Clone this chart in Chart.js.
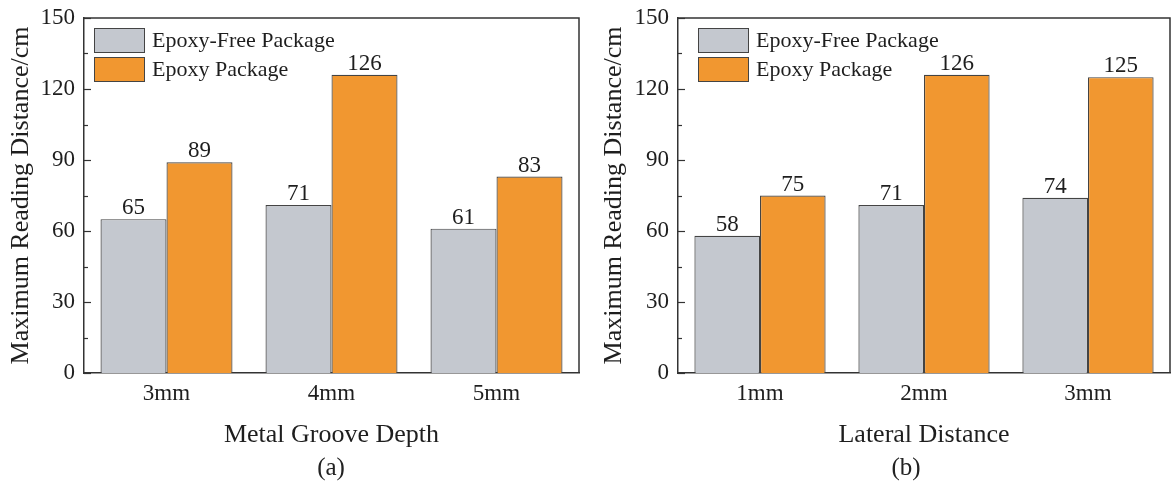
<!DOCTYPE html>
<html>
<head>
<meta charset="utf-8">
<script src="https://cdn.jsdelivr.net/npm/chart.js@4.4.1/dist/chart.umd.min.js"></script>
<style>
  body { margin: 0; background: #fff; }
  #wrap { position: relative; width: 1171px; height: 489px; overflow: hidden; }
  .box { position: absolute; top: 0; height: 489px; }
  .cap { position: absolute; font-family: 'Liberation Serif', serif; font-size: 25px; color: #222; transform: translate(-50%, -50%); }
</style>
</head>
<body>
<div id="wrap">
  <div class="box" style="left:0;width:590px;"><canvas id="chartA"></canvas></div>
  <div class="box" style="left:590px;width:581px;"><canvas id="chartB"></canvas></div>
  <div class="cap" style="left:331px;top:467px;">(a)</div>
  <div class="cap" style="left:906px;top:467px;">(b)</div>
</div>
<script>
// data
var catsA = ['3mm', '4mm', '5mm'];
var freeA = [65, 71, 61];
var epoxyA = [89, 126, 83];

var catsB = ['1mm', '2mm', '3mm'];
var freeB = [58, 71, 74];
var epoxyB = [75, 126, 125];

var yTicks = [0, 30, 60, 90, 120, 150];
var seriesNames = ['Epoxy-Free Package', 'Epoxy Package'];

var GREY = '#c4c8cf';
var ORANGE = '#f19730';
var EDGE = '#444';
var INK = '#1e1e1e';
var FONT = 'Liberation Serif';

// frame, inward ticks, value labels, legend
var framePlugin = {
    id: 'frame',
    afterDatasetsDraw: function(chart, args, opts) {
        var ctx = chart.ctx;
        var a = chart.chartArea;
        var y = chart.scales.y;
        ctx.save();
        // value labels
        ctx.fillStyle = INK;
        ctx.font = '23px "' + FONT + '"';
        ctx.textAlign = 'center';
        ctx.textBaseline = 'alphabetic';
        chart.data.datasets.forEach(function(ds, i) {
            chart.getDatasetMeta(i).data.forEach(function(bar, j) {
                ctx.fillText(String(ds.data[j]), bar.x, bar.y - 5);
            });
        });
        // spines
        ctx.strokeStyle = '#333';
        ctx.lineWidth = 1.5;
        ctx.beginPath();
        ctx.moveTo(a.left, a.top);
        ctx.lineTo(a.right, a.top);
        ctx.lineTo(a.right, a.bottom);
        ctx.stroke();
        // inward ticks
        ctx.lineWidth = 1.2;
        for (var v = 0; v <= 150; v += 15) {
            var py = Math.round(y.getPixelForValue(v)) + 0.5;
            var len = (v % 30 === 0) ? 7 : 4;
            ctx.beginPath();
            ctx.moveTo(a.left, py);
            ctx.lineTo(a.left + len, py);
            ctx.stroke();
        }
        // legend
        var lx = a.left + opts.dx;
        var tops = [a.top + 10, a.top + 39];
        var cols = [GREY, ORANGE];
        ctx.font = '22px "' + FONT + '"';
        ctx.textAlign = 'left';
        ctx.textBaseline = 'middle';
        for (var k = 0; k < 2; k++) {
            ctx.fillStyle = cols[k];
            ctx.fillRect(lx, tops[k], 50, 24);
            ctx.strokeStyle = EDGE;
            ctx.lineWidth = 1;
            ctx.strokeRect(lx + 0.5, tops[k] + 0.5, 50, 24);
            ctx.fillStyle = INK;
            ctx.fillText(seriesNames[k], lx + 58, tops[k] + 13);
        }
        ctx.restore();
    }
};

function makeChart(id, cats, free, epoxy, xTitle, yWidth, yTitlePad, legendDx, padRight) {
    var ctx = document.getElementById(id).getContext('2d');
    return new Chart(ctx, {
        type: 'bar',
        data: {
            labels: cats,
            datasets: [
                { label: seriesNames[0], data: free, backgroundColor: GREY, borderColor: EDGE, borderWidth: 1.2 },
                { label: seriesNames[1], data: epoxy, backgroundColor: ORANGE, borderColor: EDGE, borderWidth: 1.2 }
            ]
        },
        options: {
            responsive: true,
            maintainAspectRatio: false,
            animation: false,
            layout: { padding: { left: 0, top: 18, right: padRight, bottom: 0 } },
            categoryPercentage: 0.8,
            barPercentage: 1.0,
            plugins: {
                legend: { display: false },
                tooltip: { enabled: false },
                frame: { dx: legendDx }
            },
            scales: {
                x: {
                    grid: { display: false, drawTicks: false },
                    border: { display: true, color: '#333', width: 1.5 },
                    ticks: { color: INK, font: { family: FONT, size: 23 }, padding: 7 },
                    title: { display: true, text: xTitle, color: INK, font: { family: FONT, size: 26 }, padding: { top: 0, bottom: 38 } },
                    afterFit: function(s) { s.height = 116; s.paddingLeft = 0; s.paddingRight = 0; }
                },
                y: {
                    min: 0,
                    max: 150,
                    afterBuildTicks: function(s) { s.ticks = yTicks.map(function(v) { return { value: v }; }); },
                    grid: { display: false, drawTicks: false },
                    border: { display: true, color: '#333', width: 1.5 },
                    ticks: { color: INK, font: { family: FONT, size: 23 }, padding: 9 },
                    title: { display: true, text: 'Maximum Reading Distance/cm', color: INK, font: { family: FONT, size: 26 }, padding: { top: yTitlePad, bottom: 0 } },
                    afterFit: function(s) { s.width = yWidth; s.paddingTop = 0; s.paddingBottom = 0; }
                }
            }
        },
        plugins: [framePlugin]
    });
}

makeChart('chartA', catsA, freeA, epoxyA, 'Metal Groove Depth', 84, 6, 10, 11);
makeChart('chartB', catsB, freeB, epoxyB, 'Lateral Distance', 88, 9, 20, 1);
</script>
</body>
</html>
